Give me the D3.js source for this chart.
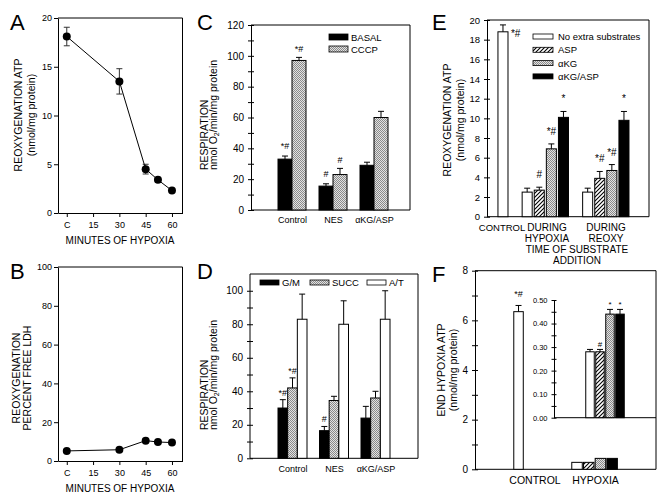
<!DOCTYPE html>
<html><head><meta charset="utf-8">
<script src="https://cdn.jsdelivr.net/npm/d3@7"></script>
<style>
body{margin:0;background:#fff}
svg{display:block}
text{font-family:Arial,"Liberation Sans",Helvetica,sans-serif;fill:#000}
</style>
</head><body>
<script>
// ---------- Panels A / B ----------
const minutes = [0, 30, 45, 52, 60];
const minuteTicks = [0, 15, 30, 45, 60];
const minuteTickLabels = ["C", "15", "30", "45", "60"];
const atpReoxy = [18.1, 13.5, 4.5, 3.4, 2.3];
const atpReoxyErr = [0.95, 1.3, 0.5, 0.25, 0.15];
const freeLDH = [5.2, 5.8, 10.5, 9.8, 9.5];
const aYTicks = [0, 5, 10, 15, 20];
const bYTicks = [0, 20, 40, 60, 80, 100];

// ---------- Panel C ----------
const resCats = ["Control", "NES", "αKG/ASP"];
const cSeries = ["BASAL", "CCCP"];
const cBasal = [33, 15.5, 29];
const cBasalErr = [2, 1.5, 2];
const cCCCP = [97, 23, 60];
const cCCCPErr = [2, 4, 4];
const cBasalMark = ["*#", "#", ""];
const cCCCPMark = ["*#", "#", ""];

// ---------- Panel D ----------
const dSeries = ["G/M", "SUCC", "A/T"];
const dGM = [30, 16.5, 24];
const dGMErr = [5, 2.5, 7];
const dSUCC = [42, 34.5, 36];
const dSUCCErr = [6, 2.5, 4];
const dAT = [83, 80, 83];
const dATErr = [15, 14, 17];
const dGMMark = ["*#", "#", ""];
const dSUCCMark = ["*#", "", ""];
const dATMark = ["", "", ""];

// ---------- Panel E ----------
const eSeries = ["No extra substrates", "ASP", "αKG", "αKG/ASP"];
const eControl = 18.8, eControlErr = 0.7;
const eHypoxia = [2.5, 2.7, 6.9, 10.1];
const eHypoxiaErr = [0.4, 0.3, 0.5, 0.6];
const eReoxy = [2.5, 3.9, 4.7, 9.8];
const eReoxyErr = [0.4, 0.7, 0.6, 0.9];
const eHypoxiaMark = ["", "#", "*#", "*"];
const eReoxyMark = ["", "*#", "*#", "*"];

// ---------- Panel F ----------
const fControl = 6.35, fControlErr = 0.25;
const fHypoxia = [0.28, 0.28, 0.44, 0.44];
const fHypoxiaErr = [0.01, 0.01, 0.02, 0.02];
const fHypoxiaMark = ["", "#", "*", "*"];

// ================= drawing =================
const svg = d3.select("body").append("svg").attr("width", 665).attr("height", 501);
const defs = svg.append("defs");
const pc = defs.append("pattern").attr("id", "cross").attr("patternUnits", "userSpaceOnUse").attr("width", 2).attr("height", 2);
pc.append("rect").attr("width", 2).attr("height", 2).attr("fill", "#e2e2e2");
pc.append("rect").attr("width", 1).attr("height", 1).attr("fill", "#8a8a8a");
pc.append("rect").attr("x", 1).attr("y", 1).attr("width", 1).attr("height", 1).attr("fill", "#8a8a8a");
const ph = defs.append("pattern").attr("id", "hatch").attr("patternUnits", "userSpaceOnUse").attr("width", 4).attr("height", 4);
ph.append("rect").attr("width", 4).attr("height", 4).attr("fill", "#fff");
ph.append("path").attr("d", "M-1,1L1,-1M0,4L4,0M3,5L5,3").attr("stroke", "#000").attr("stroke-width", 1.1);

const FILLS = {black: "#000", white: "#fff", cross: "url(#cross)", hatch: "url(#hatch)"};

function letter(t, x, y) {
  svg.append("text").attr("x", x).attr("y", y).attr("font-size", 22).text(t);
}
function frame(x, y) {
  const [x0, x1] = x.range(), [y0, y1] = y.range();
  svg.append("path").attr("d", `M${x0},${y1}H${x1}V${y0}`).attr("fill", "none").attr("stroke", "#000").attr("stroke-width", 1);
}
function bottomLine(x, y) {
  const [x0, x1] = x.range();
  svg.append("path").attr("d", `M${x0},${y(0)}H${x1}`).attr("stroke", "#000").attr("stroke-width", 1);
}
function yLabel(lines, xs, yc, anchor, size) {
  lines.forEach((ln, i) => {
    const t = svg.append("text").attr("transform", `translate(${xs[i]},${yc}) rotate(-90)`)
      .attr("text-anchor", anchor).attr("font-size", size || 10.5);
    if (Array.isArray(ln)) {
      t.append("tspan").text(ln[0]);
      t.append("tspan").attr("dy", 2).attr("font-size", 7).text(ln[1]);
      t.append("tspan").attr("dy", -2).text(ln[2]);
    } else t.text(ln);
  });
}
function crossAxis(g, axis, size, fs) {
  g.call(axis);
  g.selectAll(".tick line").attr("x1", size).attr("x2", -size);
  g.selectAll(".tick text").attr("font-size", fs);
  g.attr("font-family", null);
}
function bar(g, xc, w, y, v, err, fill, mark, markSize, markGap) {
  g.append("rect").attr("x", xc - w / 2).attr("y", y(v)).attr("width", w).attr("height", y(0) - y(v))
    .attr("fill", FILLS[fill]).attr("stroke", "#000").attr("stroke-width", 1);
  let top = y(v);
  if (err) {
    top = y(v + err);
    g.append("path").attr("d", `M${xc},${y(v)}V${top}M${xc - 3},${top}H${xc + 3}`).attr("stroke", "#000").attr("stroke-width", 1);
  }
  if (mark) {
    g.append("text").attr("x", xc).attr("y", top - (markGap == null ? 6 : markGap)).attr("text-anchor", "middle")
      .attr("font-size", markSize || 9).text(mark);
  }
}

// ---------- Panels A, B ----------
function lineChart(yRange, yDomain, yTicks, vals, errs) {
  const x = d3.scaleLinear().domain([-5, 66]).range([58, 182.5]);
  const y = d3.scaleLinear().domain(yDomain).range(yRange);
  const gy = svg.append("g").attr("transform", `translate(${x.range()[0]},0)`);
  gy.call(d3.axisLeft(y).tickValues(yTicks).tickSize(4).tickSizeOuter(0).tickPadding(2));
  gy.selectAll("text").attr("font-size", 9); gy.attr("font-family", null);
  const gx = svg.append("g").attr("transform", `translate(0,${y.range()[0]})`);
  gx.call(d3.axisBottom(x).tickValues(minuteTicks).tickFormat((d, i) => minuteTickLabels[i]).tickSize(4).tickSizeOuter(0).tickPadding(5));
  gx.selectAll("text").attr("font-size", 9); gx.attr("font-family", null);
  frame(x, y);
  const pts = minutes.map((m, i) => ({m, v: vals[i], e: errs ? errs[i] : 0}));
  if (errs) {
    svg.append("g").selectAll("path").data(pts).join("path")
      .attr("d", d => `M${x(d.m)},${y(d.v - d.e)}V${y(d.v + d.e)}M${x(d.m) - 3},${y(d.v - d.e)}H${x(d.m) + 3}M${x(d.m) - 3},${y(d.v + d.e)}H${x(d.m) + 3}`)
      .attr("stroke", "#333").attr("stroke-width", 1).attr("fill", "none");
  }
  svg.append("path").datum(pts).attr("d", d3.line().x(d => x(d.m)).y(d => y(d.v)))
    .attr("fill", "none").attr("stroke", "#000").attr("stroke-width", 1);
  svg.append("g").selectAll("circle").data(pts).join("circle")
    .attr("cx", d => x(d.m)).attr("cy", d => y(d.v)).attr("r", 4).attr("fill", "#000");
  svg.append("text").attr("x", 120).attr("y", y.range()[0] + 31).attr("text-anchor", "middle").attr("font-size", 10).text("MINUTES OF HYPOXIA");
  return {x, y};
}
letter("A", 10, 30);
lineChart([213, 18], [0, 20], aYTicks, atpReoxy, atpReoxyErr);
yLabel(["REOXYGENATION ATP", "(nmol/mg protein)"], [22, 35], 115, "middle");

letter("B", 10, 279);
lineChart([461, 267], [0, 100], bYTicks, freeLDH, null);
yLabel(["REOXYGENATION", "PERCENT FREE LDH"], [19.5, 31], 378, "middle");

// ---------- Panel C ----------
letter("C", 197, 30);
{
  const xb = d3.scaleLinear().domain([0, 1]).range([251, 410]);
  const y = d3.scaleLinear().domain([0, 120]).range([210, 25]);
  const x0 = d3.scalePoint().domain(resCats).range([292, 374]);
  const x1 = d3.scaleBand().domain(cSeries).range([-14, 14]);
  const gy = svg.append("g").attr("transform", `translate(251,0)`);
  crossAxis(gy, d3.axisLeft(y).tickValues(d3.range(0, 121, 10)).tickFormat(d => d % 20 === 0 ? d : "").tickSize(3).tickSizeOuter(0).tickPadding(4), 3, 10);
  frame(xb, y); bottomLine(xb, y);
  const gx = svg.append("g").attr("transform", `translate(0,210)`);
  gx.call(d3.axisBottom(x0).tickSize(0).tickPadding(7)); gx.select(".domain").remove();
  gx.selectAll("text").attr("font-size", 9); gx.attr("font-family", null);
  const g = svg.append("g");
  const w = x1.bandwidth();
  resCats.forEach((c, i) => {
    bar(g, x0(c) + x1("BASAL") + w / 2, w, y, cBasal[i], cBasalErr[i], "black", cBasalMark[i], 9, 7);
    bar(g, x0(c) + x1("CCCP") + w / 2, w, y, cCCCP[i], cCCCPErr[i], "cross", cCCCPMark[i], 9, 5);
  });
  [["BASAL", "black"], ["CCCP", "cross"]].forEach(([n, f], i) => {
    svg.append("rect").attr("x", 329).attr("y", 34 + i * 12).attr("width", 19).attr("height", 6).attr("fill", FILLS[f]).attr("stroke", "#000").attr("stroke-width", 0.8);
    svg.append("text").attr("x", 351).attr("y", 40.5 + i * 12).attr("font-size", 9.5).text(n);
  });
  yLabel(["RESPIRATION", ["nmol O", "2", "/min/mg protein"]], [207.5, 217], 170, "start");
}

// ---------- Panel D ----------
letter("D", 197, 279);
{
  const xb = d3.scaleLinear().domain([0, 1]).range([250, 418]);
  const y = d3.scaleLinear().domain([0, 110]).range([458.3, 274]);
  const x0 = d3.scalePoint().domain(resCats).range([292.5, 375.5]);
  const x1 = d3.scaleBand().domain(dSeries).range([-14.5, 14.5]);
  const gy = svg.append("g").attr("transform", `translate(250,0)`);
  crossAxis(gy, d3.axisLeft(y).tickValues(d3.range(0, 101, 10)).tickFormat(d => d % 20 === 0 ? d : "").tickSize(3).tickSizeOuter(0).tickPadding(4), 3, 10);
  gy.select(".domain").attr("d", `M0,${y(0)}V${y(110)}`);
  frame(xb, y); bottomLine(xb, y);
  const gx = svg.append("g").attr("transform", `translate(0,458.3)`);
  gx.call(d3.axisBottom(x0).tickSize(0).tickPadding(7)); gx.select(".domain").remove();
  gx.selectAll("text").attr("font-size", 9); gx.attr("font-family", null);
  const g = svg.append("g");
  const w = x1.bandwidth();
  const S = [[dGM, dGMErr, "black", dGMMark], [dSUCC, dSUCCErr, "cross", dSUCCMark], [dAT, dATErr, "white", dATMark]];
  resCats.forEach((c, i) => {
    dSeries.forEach((s, j) => {
      const [v, e, f, m] = S[j];
      bar(g, x0(c) + x1(s) + w / 2, w, y, v[i], e[i], f, m[i], 9, 4);
    });
  });
  const lg = [["G/M", "black", 260], ["SUCC", "cross", 310], ["A/T", "white", 367]];
  lg.forEach(([n, f, lx]) => {
    svg.append("rect").attr("x", lx).attr("y", 280).attr("width", 19).attr("height", 5).attr("fill", FILLS[f]).attr("stroke", "#000").attr("stroke-width", 0.8);
    svg.append("text").attr("x", lx + 22).attr("y", 286).attr("font-size", 9.5).text(n);
  });
  yLabel(["RESPIRATION", ["nmol O", "2", "/min/mg protein"]], [207.5, 217], 430, "start");
}

// ---------- Panel E ----------
letter("E", 432, 30);
{
  const fillsE = ["white", "hatch", "cross", "black"];
  const x = d3.scaleLinear().domain([-1.32, 12.07]).range([487, 649]); // slot units
  const y = d3.scaleLinear().domain([0, 20]).range([216.7, 20]);
  const gy = svg.append("g").attr("transform", `translate(487,0)`);
  crossAxis(gy, d3.axisLeft(y).tickValues(d3.range(0, 21, 2)).tickSize(3).tickSizeOuter(0).tickPadding(4), 3, 9.5);
  frame(x, y); bottomLine(x, y);
  const w = x(0.83) - x(0);
  const g = svg.append("g");
  bar(g, x(0), w, y, eControl, eControlErr, "white", "", 10);
  g.append("text").attr("x", x(0) + 8).attr("y", y(eControl + eControlErr) + 12).attr("font-size", 10).text("*#");
  eHypoxia.forEach((v, i) => bar(g, x(2 + i), w, y, v, eHypoxiaErr[i], fillsE[i], eHypoxiaMark[i], 10, 9));
  eReoxy.forEach((v, i) => bar(g, x(7 + i), w, y, v, eReoxyErr[i], fillsE[i], eReoxyMark[i], 10, 9));
  eSeries.forEach((n, i) => {
    svg.append("rect").attr("x", 533).attr("y", 34 + i * 13.3).attr("width", 20).attr("height", 5).attr("fill", FILLS[fillsE[i]]).attr("stroke", "#000").attr("stroke-width", 0.8);
    svg.append("text").attr("x", 558).attr("y", 40 + i * 13.3).attr("font-size", 9.5).text(n);
  });
  const lab = (t, cx, by, fs) => svg.append("text").attr("x", cx).attr("y", by).attr("text-anchor", "middle").attr("font-size", fs || 10).text(t);
  lab("CONTROL", 502, 231, 9.5);
  lab("DURING", 547, 230.5); lab("HYPOXIA", 547, 241.5);
  lab("DURING", 606, 230.5); lab("REOXY", 606, 241.5);
  lab("TIME OF SUBSTRATE", 577, 253); lab("ADDITION", 577, 264);
  yLabel(["REOXYGENATION ATP", "(nmol/mg protein)"], [451, 464], 120, "middle");
}

// ---------- Panel F ----------
letter("F", 432, 282);
{
  const fillsF = ["white", "hatch", "cross", "black"];
  const x = d3.scaleLinear().domain([-3.72, 11.75]).range([475, 656]); // slot units
  const y = d3.scaleLinear().domain([0, 8]).range([469.3, 270.7]);
  const gy = svg.append("g").attr("transform", `translate(475,0)`);
  crossAxis(gy, d3.axisLeft(y).tickValues(d3.range(0, 9, 1)).tickFormat(d => d % 2 === 0 ? d : "").tickSize(3).tickSizeOuter(0).tickPadding(4), 3, 10);
  frame(x, y); bottomLine(x, y);
  const g = svg.append("g");
  bar(g, x(0), 9.5, y, fControl, fControlErr, "white", "*#", 9, 8);
  fHypoxia.forEach((v, i) => bar(g, x(5 + i), 10.5, y, v, 0, fillsF[i], ""));
  const lab = (t, cx, by) => svg.append("text").attr("x", cx).attr("y", by).attr("text-anchor", "middle").attr("font-size", 10.5).text(t);
  lab("CONTROL", 535, 484); lab("HYPOXIA", 595.5, 484);
  yLabel(["END HYPOXIA ATP", "(nmol/mg protein)"], [445, 457], 370, "middle");
  // inset
  const ix = d3.scaleLinear().domain([-3.6, 6.6]).range([554, 656]);
  const iy = d3.scaleLinear().domain([0, 0.5]).range([417.7, 300]);
  const giy = svg.append("g").attr("transform", `translate(554,0)`);
  crossAxis(giy, d3.axisLeft(iy).tickValues(d3.range(0, 0.501, 0.05)).tickFormat(d => Math.round(d * 100) % 10 === 0 ? d3.format(".2f")(d) : "").tickSize(2.5).tickSizeOuter(0).tickPadding(4), 2.5, 7.5);
  bottomLine(ix, iy);
  const gi = svg.append("g");
  fHypoxia.forEach((v, i) => bar(gi, ix(i), 8.5, iy, v, fHypoxiaErr[i], fillsF[i], fHypoxiaMark[i], 8, 2));
}
</script>
</body></html>
